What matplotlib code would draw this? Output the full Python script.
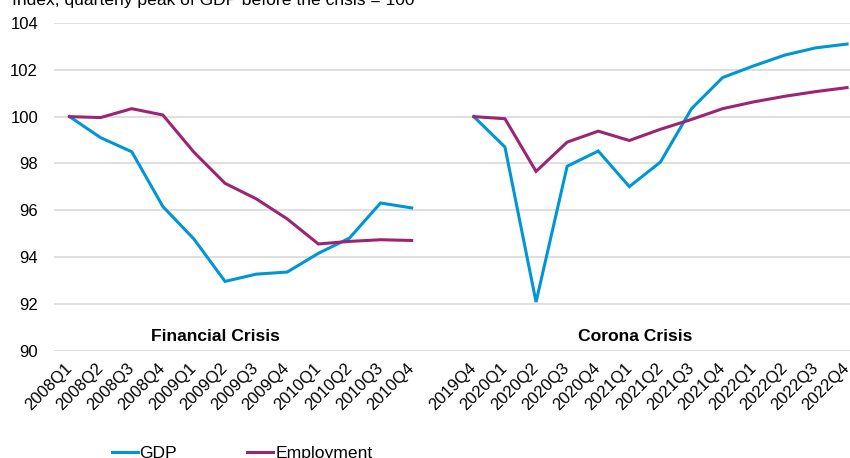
import numpy as np
import matplotlib as mpl

mpl.use("Agg")

import matplotlib.pyplot as plt

IMAGE_DPI = 100.0

FINANCIAL_QUARTERS = [
    "2008Q1", "2008Q2", "2008Q3", "2008Q4",
    "2009Q1", "2009Q2", "2009Q3", "2009Q4",
    "2010Q1", "2010Q2", "2010Q3", "2010Q4",
]
CORONA_QUARTERS = [
    "2019Q4", "2020Q1", "2020Q2", "2020Q3", "2020Q4",
    "2021Q1", "2021Q2", "2021Q3", "2021Q4",
    "2022Q1", "2022Q2", "2022Q3", "2022Q4",
]

FINANCIAL_GDP = [100.0, 99.1, 98.5, 96.16, 94.77, 92.96, 93.27, 93.36, 94.16, 94.81, 96.31, 96.1]
FINANCIAL_EMPLOYMENT = [100.0, 99.96, 100.34, 100.07, 98.48, 97.15, 96.49, 95.63, 94.56, 94.67, 94.74, 94.71]

CORONA_GDP = [100.0, 98.7, 92.08, 97.88, 98.53, 97.01, 98.06, 100.34, 101.67, 102.17, 102.63, 102.94, 103.1]
CORONA_EMPLOYMENT = [100.0, 99.91, 97.66, 98.91, 99.38, 98.98, 99.46, 99.88, 100.34, 100.63, 100.87, 101.07, 101.24]

GDP_COLOR = "#0096D6"
EMPLOYMENT_COLOR = "#9B2574"
GRID_COLOR = "#D9D9D9"

TEXT_SIZE = 12.6
TICK_SIZE = 12.0

plt.rcParams["font.family"] = ["Liberation Sans", "DejaVu Sans"]
plt.rcParams["font.size"] = TEXT_SIZE


def join_periods(first, second):
    # one empty slot keeps the two crisis periods apart
    return list(first) + [np.nan] + list(second)


labels = FINANCIAL_QUARTERS + [""] + CORONA_QUARTERS
gdp = join_periods(FINANCIAL_GDP, CORONA_GDP)
employment = join_periods(FINANCIAL_EMPLOYMENT, CORONA_EMPLOYMENT)
x = np.arange(len(labels))

fig = plt.figure(figsize=(850 / IMAGE_DPI, 458 / IMAGE_DPI), dpi=IMAGE_DPI)
ax = fig.add_axes([54 / 850, 1 - 350.7 / 458, 808.6 / 850, (350.7 - 23) / 458])

ax.plot(x, gdp, color=GDP_COLOR, linewidth=2.2, label="GDP", solid_joinstyle="miter")
ax.plot(x, employment, color=EMPLOYMENT_COLOR, linewidth=2.2, label="Employment", solid_joinstyle="miter")

ax.set_xlim(-0.5, len(labels) - 0.5)
ax.set_ylim(90, 104)
ax.set_yticks(range(90, 105, 2))

ax.set_xticks(x)
ax.set_xticklabels(labels, rotation=45, ha="right", va="center", rotation_mode="anchor")
ax.tick_params(axis="both", labelsize=TICK_SIZE, length=0)
ax.tick_params(axis="x", pad=11)
ax.tick_params(axis="y", pad=11.5)

ax.grid(axis="y", color=GRID_COLOR, linewidth=1.2)
ax.set_axisbelow(True)
for spine in ax.spines.values():
    spine.set_visible(False)

ax.text(4.7, 90.62, "Financial Crisis", ha="center", va="center", fontweight="bold")
ax.text(18.2, 90.62, "Corona Crisis", ha="center", va="center", fontweight="bold")

fig.text(12 / 850, 1 - 5 / 458, "Index, quarterly peak of GDP before the crisis = 100", ha="left", va="baseline")

fig.legend(
    loc="center",
    bbox_to_anchor=(242 / 850, 1 - 453 / 458),
    ncol=2,
    frameon=False,
    handlelength=1.5,
    handletextpad=0.1,
    columnspacing=4.0,
)

fig.savefig("out.png", dpi=IMAGE_DPI)
